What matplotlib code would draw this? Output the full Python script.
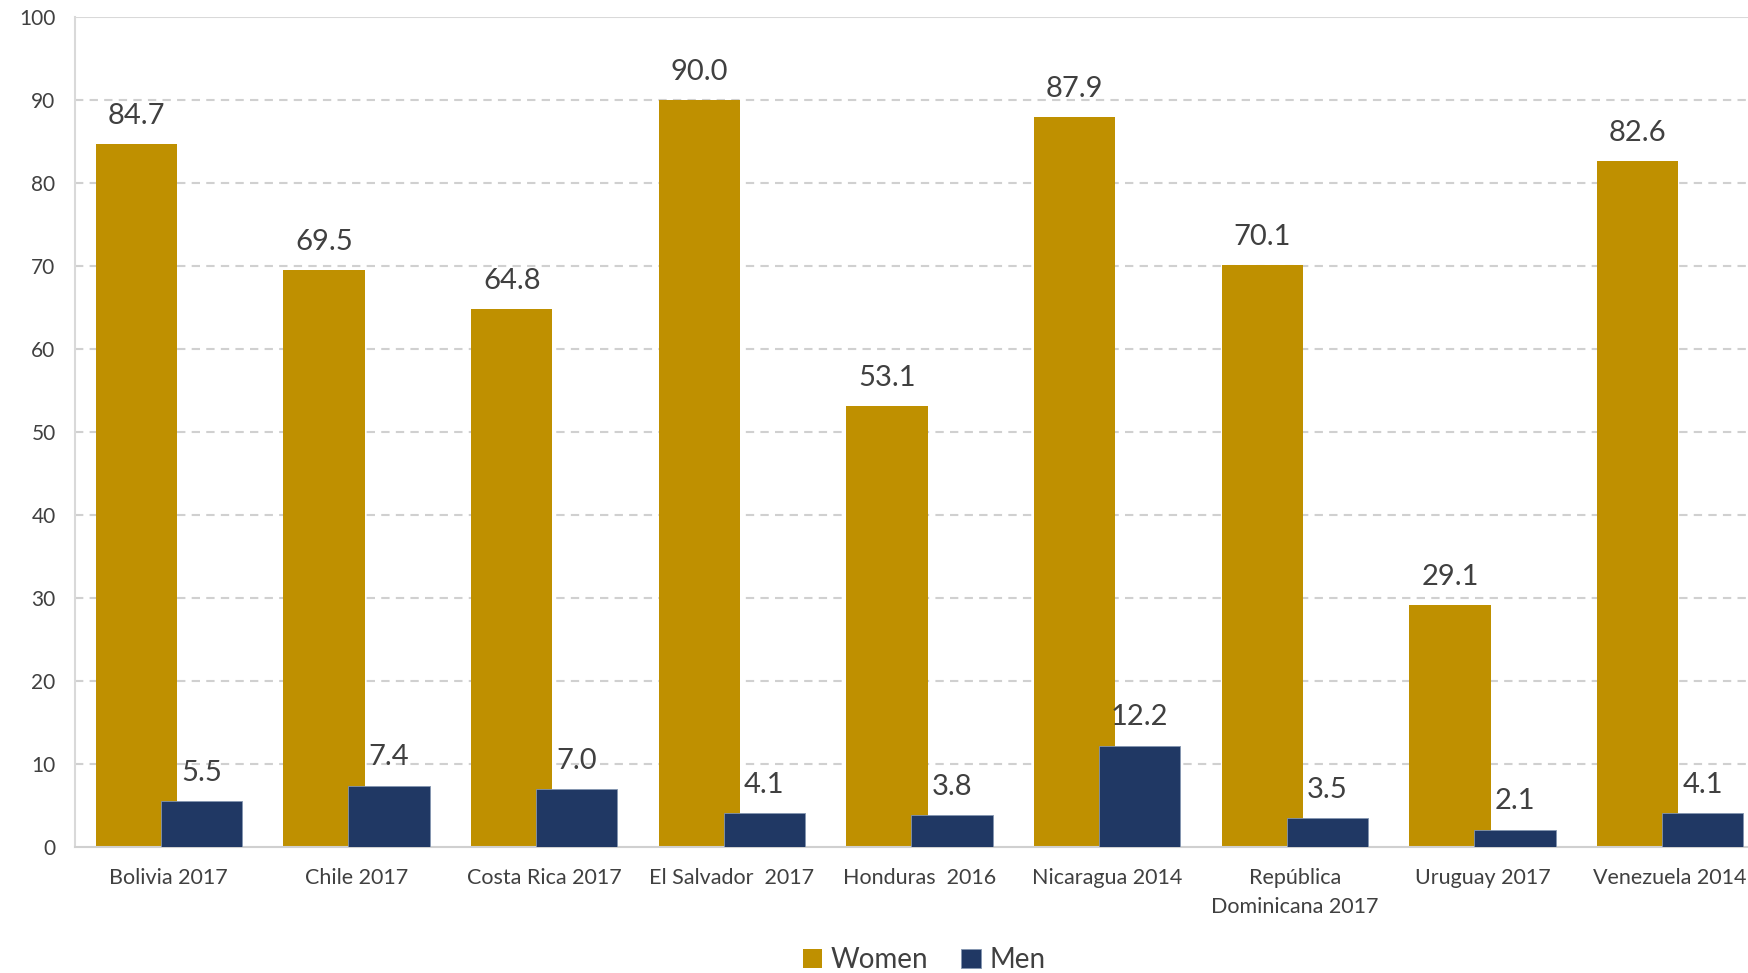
import numpy as np
import matplotlib.pyplot as plt

plt.rcParams['font.family'] = ['Lato', 'DejaVu Sans']

countries = ['Bolivia 2017', 'Chile 2017', 'Costa Rica 2017', 'El Salvador  2017',
             'Honduras  2016', 'Nicaragua 2014', 'República\nDominicana 2017',
             'Uruguay 2017', 'Venezuela 2014']
women = [84.7, 69.5, 64.8, 90.0, 53.1, 87.9, 70.1, 29.1, 82.6]
men = [5.5, 7.4, 7.0, 4.1, 3.8, 12.2, 3.5, 2.1, 4.1]

gold = '#BF9000'
navy = '#203864'
txt = '#404040'

fig = plt.figure(figsize=(17.49, 9.73), dpi=100)
# plot area runs a little past the right edge of the figure
ax = fig.add_axes([75/1749, 1 - 847/973, 1689/1749, (847 - 17)/973])

x = np.arange(len(countries))
w = 0.433
off = 0.173
b1 = ax.bar(x - off, women, w, color=gold, label='Women', zorder=2)
b2 = ax.bar(x + off, men, w, color=navy, label='Men', zorder=3,
            edgecolor='#8496B0', linewidth=0.6)

for bars, vals in ((b1, women), (b2, men)):
    for r, v in zip(bars, vals):
        ax.annotate(f'{v:.1f}', (r.get_x() + r.get_width() / 2, v),
                    xytext=(0, 11), textcoords='offset points',
                    ha='center', va='bottom', fontsize=21, color=txt, zorder=4)

ax.set_xlim(-0.5, len(countries) - 0.5)
ax.set_ylim(0, 100)
ax.set_yticks(range(0, 101, 10))
ax.set_xticks(x)
ax.set_xticklabels(countries, fontsize=15.5, color=txt, linespacing=1.55)
ax.tick_params(axis='y', labelsize=15, labelcolor=txt, length=0, pad=14)
ax.tick_params(axis='x', length=0, pad=15)

for y in range(10, 100, 10):
    ax.axhline(y, color='#D0D0D0', lw=1.5, ls=(0, (4, 3)), zorder=1)
ax.axhline(100, color='#D9D9D9', lw=1.5, zorder=1)

for s in ('top', 'right'):
    ax.spines[s].set_visible(False)
ax.spines['left'].set_color('#D9D9D9')
ax.spines['left'].set_linewidth(1.5)
ax.spines['bottom'].set_color('#D0D0D0')
ax.spines['bottom'].set_linewidth(1.5)

fig.legend(loc='center', bbox_to_anchor=(924/1749, 1 - 960/973), ncol=2,
           frameon=False, fontsize=20, handlelength=0.7, handleheight=0.7,
           handletextpad=0.3, columnspacing=1.2, labelcolor=txt)

fig.savefig('out.png', dpi=100)
